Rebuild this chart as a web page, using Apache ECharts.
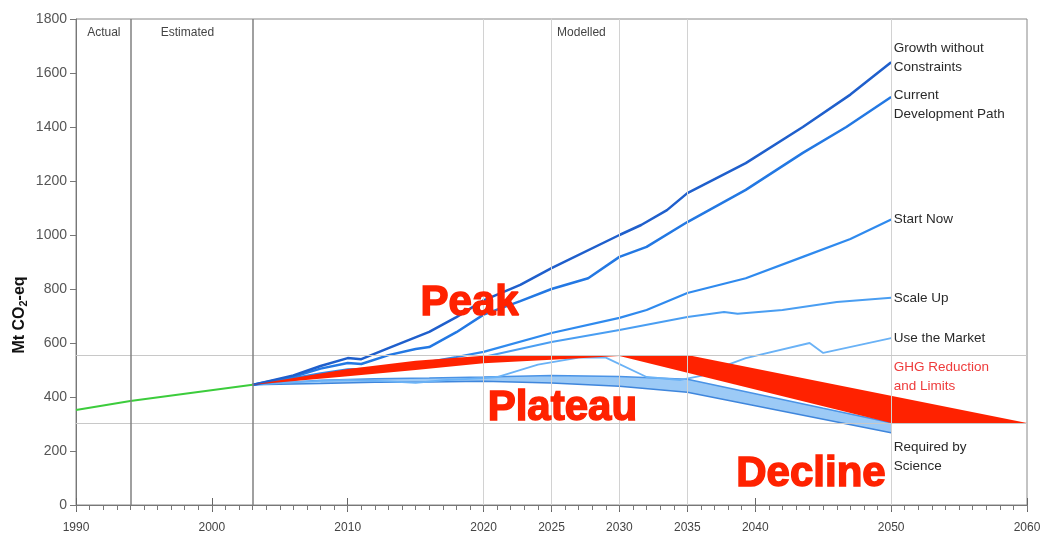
<!DOCTYPE html>
<html><head><meta charset="utf-8">
<script src="https://cdn.jsdelivr.net/npm/echarts@6/dist/echarts.min.js"></script>
<style>html,body{margin:0;padding:0;background:#fff}#c{width:1046px;height:538px}</style>
</head><body><div id="c"></div>
<script>
// ---- data ----
const labelYears = [1990, 2000, 2010, 2020, 2025, 2030, 2035, 2040, 2050, 2060];
const phaseLines = [1994, 2003];
const gridYears = [2020, 2025, 2030, 2035, 2050];
const refLevels = [555, 304];

const historic = [[1990,352],[1994,385],[2003,445]];
const growth = [[2003,445],[2006,480],[2008,515],[2010,544],[2011,540],[2013,581],[2016,641],[2018,696],[2020,758],[2022.7,815],[2025,877],[2030,1000],[2031.6,1037],[2033.5,1092],[2035,1155],[2039.3,1266],[2043.5,1400],[2047,1520],[2050,1640]];
const currentDev = [[2003,445],[2006,475],[2008,505],[2010,526],[2011,522],[2013,555],[2015,578],[2016,585],[2018,640],[2020,705],[2022.7,755],[2025,800],[2027.7,840],[2030,919],[2032,956],[2035,1048],[2039.3,1167],[2043.5,1304],[2046.7,1400],[2050,1511]];
const startNow = [[2003,445],[2006,470],[2008,488],[2010,502],[2012,505],[2015,522],[2018,548],[2020,567],[2025,637],[2030,693],[2032,722],[2035,785],[2039.3,840],[2043.5,919],[2047,985],[2050,1057]];
const scaleUp = [[2003,445],[2006,463],[2008,478],[2010,490],[2012,496],[2015,508],[2018,530],[2020,548],[2025,604],[2030,648],[2035,696],[2037.7,715],[2038.7,708],[2042,722],[2046,752],[2050,768]];
const useMarket = [[2003,445],[2006,455],[2008,460],[2010,463],[2013,458],[2015,452],[2017,462],[2020,470],[2021,474],[2024,520],[2027,546],[2029,546],[2032,474],[2034.5,463],[2036,478],[2038,520],[2039.3,544],[2044,600],[2045,563],[2050,618]];
const scienceUpper = [[2003,445],[2008,462],[2012,468],[2016,470],[2020,474],[2025,480],[2030,476],[2035,466],[2040,412],[2045,358],[2050,305]];
const scienceLower = [[2003,445],[2008,450],[2012,455],[2016,456],[2020,458],[2025,452],[2030,440],[2035,418],[2040,368],[2045,318],[2050,268]];
const ghgUpper = [[2003,445],[2010,504],[2015,534],[2020,553],[2023,556],[2035,556],[2060,304]];
const ghgLower = [[2003,445],[2010,477],[2015,500],[2020,525],[2025,538],[2028,546],[2030,552],[2050,304],[2060,304]];

const endLabelTexts = ['Growth without\nConstraints','Current\nDevelopment Path','Start Now','Scale Up','Use the Market','GHG Reduction\nand Limits','Required by\nScience'];
const endLabelAnchors = [[2050,1656],[2050,1483],[2050,1059],[2050,767],[2050,619],[2050,476],[2050,178]];
const phaseTexts = ['Actual','Estimated','Modelled'];
const phaseAnchors = [[1992.05,1748],[1998.2,1748],[2027.2,1748]];
const bigTexts = ['Peak','Plateau','Decline'];
const bigAnchors = [[2018.97,748],[2025.8,359],[2044.1,115]];

// ---- chart ----
const chart = echarts.init(document.getElementById('c'), null, {renderer:'canvas'});
const FONT = 'Liberation Sans, Arial, sans-serif';

function band(upper, lower, fill, z) {
  return {
    type:'custom', coordinateSystem:'cartesian2d', z:z, silent:true,
    data:[upper[0]],
    renderItem: function(params, api){
      const pts = upper.map(p=>api.coord(p)).concat(lower.slice().reverse().map(p=>api.coord(p)));
      return {type:'polygon', shape:{points:pts}, style:{fill:fill}};
    }
  };
}
function line(data, color, width, z) {
  return {type:'line', data:data, showSymbol:false, symbol:'none', z:z, silent:true,
    lineStyle:{color:color, width:width}, animation:false};
}
function textSeries(texts, anchors, labelOpt) {
  return {type:'scatter', symbolSize:1, itemStyle:{color:'rgba(0,0,0,0)', opacity:1}, z:10, silent:true,
    data: texts.map((t,i)=>({name:t, value:anchors[i], label: Object.assign({opacity:1}, labelOpt(i))})),
    label:{show:true, opacity:1, formatter: p=>p.name}};
}
const plain = v => String(v);

const option = {
  animation:false,
  backgroundColor:'#fff',
  grid:{left:76, right:19, top:19, bottom:33, show:true, borderColor:'#888', borderWidth:1},
  xAxis:[
    {type:'value', min:1990, max:2060, interval:5,
     axisLine:{show:true, lineStyle:{color:'#777', width:1}},
     axisTick:{show:true, customValues:labelYears, length:7, lineStyle:{color:'#666'}},
     axisLabel:{customValues:labelYears, formatter:plain, color:'#444', fontSize:12, fontFamily:FONT, margin:17},
     splitLine:{show:false}},
    {type:'value', min:1990, max:2060, interval:1, position:'bottom',
     axisLine:{show:false}, axisTick:{show:true, length:5, lineStyle:{color:'#777'}},
     axisLabel:{show:false}, splitLine:{show:false}},
    {type:'value', min:1990, max:2060, position:'bottom',
     axisLine:{show:false}, axisTick:{show:true, inside:true, customValues:labelYears, length:7, lineStyle:{color:'#666'}},
     axisLabel:{show:false}, splitLine:{show:false}}
  ],
  yAxis:{type:'value', min:0, max:1800, interval:200,
    axisLine:{show:true, lineStyle:{color:'#777'}},
    axisTick:{show:true, length:6, lineStyle:{color:'#777'}},
    axisLabel:{formatter:plain, color:'#555', fontSize:14, fontFamily:FONT, margin:9},
    splitLine:{show:false}},
  graphic:[{type:'text', x:20, y:315, rotation:Math.PI/2, silent:true,
    style:{text:'{a|Mt CO}{b|2}{a|-eq}', align:'center', verticalAlign:'middle',
      rich:{a:{fontSize:16, fontWeight:'bold', fontFamily:FONT, fill:'#111'},
            b:{fontSize:11, fontWeight:'bold', fontFamily:FONT, fill:'#111', padding:[7,0,0,0]}}}}],
  series:[
    {type:'line', data:[], z:0, silent:true,
     markLine:{silent:true, symbol:'none', label:{show:false}, animation:false,
       data: gridYears.map(v=>({xAxis:v, lineStyle:{color:'#d2d2d2', width:1, type:'solid'}}))
         .concat(refLevels.map(v=>({yAxis:v, lineStyle:{color:'#c8c8c8', width:1, type:'solid'}})))
         .concat(phaseLines.map(v=>({xAxis:v, lineStyle:{color:'#808080', width:1.5, type:'solid'}})))}},
    band(scienceUpper, scienceLower, '#9ccaf6', 1),
    line(scienceUpper, '#4a93e6', 1.5, 2),
    line(scienceLower, '#3f86dc', 1.5, 2),
    line(useMarket, '#6ab2f6', 1.8, 2),
    line(scaleUp, '#4a9ef2', 2, 2),
    line(startNow, '#2f8aee', 2.2, 2),
    line(currentDev, '#2378e3', 2.5, 2),
    line(growth, '#1f5fcc', 2.5, 2),
    band(ghgUpper, ghgLower, '#ff2200', 3),
    line(historic, '#3ccc3c', 2, 4),
    textSeries(endLabelTexts, endLabelAnchors, i=>({position:'right', distance:2, align:'left', verticalAlign:'middle',
      fontSize:13.5, lineHeight:19, fontFamily:FONT, color: i===5 ? '#ee3b3b' : '#2a2a2a', textBorderWidth:0})),
    textSeries(phaseTexts, phaseAnchors, i=>({position:'inside', align:'center', verticalAlign:'middle',
      fontSize:12, fontFamily:FONT, color:'#444', textBorderWidth:0})),
    textSeries(bigTexts, bigAnchors, i=>({position:'inside', align:'center', verticalAlign:'middle',
      fontSize:42, fontWeight:'bold', fontFamily:FONT, color:'#ff2200', textBorderColor:'#ff2200', textBorderWidth:1.5}))
  ]
};
chart.setOption(option);
</script></body></html>
